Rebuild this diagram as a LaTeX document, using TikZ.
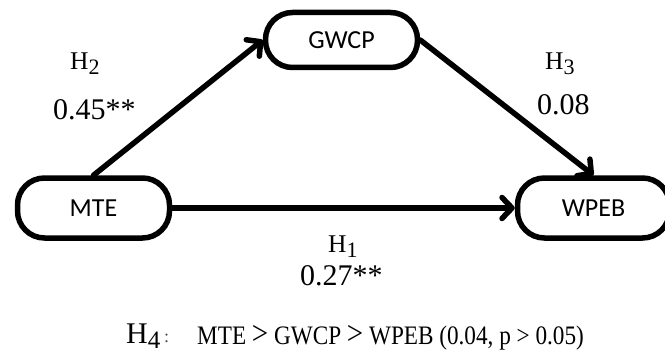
\documentclass[tikz,border=0pt]{standalone}
\usepackage{fontspec}
\setmainfont{Liberation Serif}
\newfontfamily\boxfont{Carlito}
\usetikzlibrary{arrows.meta}

% lowered index digit used in the hypothesis labels
\newcommand\hypidx[2][22]{\raisebox{-5pt}{\fontsize{#1}{#1}\selectfont #2}}
% enlarged "greater than" sign of the mediation chain
\newcommand\chaingt{\raisebox{-0.5pt}{\scalebox{1.25}{>}}}

\begin{document}
\begin{tikzpicture}[x=1pt,y=-1pt,
  varbox/.style={draw, line width=5.5pt, rounded corners=27pt,
    minimum width=152pt, inner sep=0pt,
    font=\boxfont\fontsize{26}{26}\selectfont},
  link/.style={line width=5.5pt, line cap=round,
    -{Straight Barb[length=10pt,width=21pt,round]}},
  hlabel/.style={inner sep=0pt, anchor=base west,
    font=\fontsize{25.5}{25.5}\selectfont},
  coef/.style={inner sep=0pt, anchor=base west,
    font=\fontsize{30}{30}\selectfont}]

\useasboundingbox (0,0) rectangle (665,353);

% variables
\node[varbox, minimum height=55pt] (gwcp) at (341.5,40) {GWCP};
\node[varbox, minimum height=60pt] (mte)  at (93.5,208) {MTE};
\node[varbox, minimum height=60pt] (wpeb) at (593.5,208) {WPEB};

% paths
\draw[link] (mte.north) -- (gwcp.west);
\draw[link] (gwcp.east) -- (wpeb.north);
\draw[link] (mte.east) -- (wpeb.west);

% path labels and coefficients
\node[hlabel] (h2) at (70,70) {H\hypidx{2}};
\node[coef]   (c2) at (53,120) {0.45**};
\node[hlabel] (h3) at (545,70) {H\hypidx{3}};
\node[coef]   (c3) at (537,115) {0.08};
\node[hlabel] (h1) at (328,252) {H\hypidx{1}};
\node[coef]   (c1) at (300,285) {0.27**};

% mediation hypothesis
\node[inner sep=0pt, anchor=base west, font=\fontsize{30}{30}\selectfont]
  (h4) at (126,343) {H\hypidx[25]{4}};
\node[inner sep=0pt, anchor=base west, font=\fontsize{18}{18}\selectfont,
  text=black!70] (h4colon) at (164,342) {:};
\node[inner sep=0pt, anchor=base west] (h4text) at (197,344)
  {\scalebox{1}[1.15]{\fontsize{23.2}{23.2}\selectfont MTE \chaingt{} GWCP \chaingt{} WPEB (0.04, p > 0.05)}};
\end{tikzpicture}
\end{document}
